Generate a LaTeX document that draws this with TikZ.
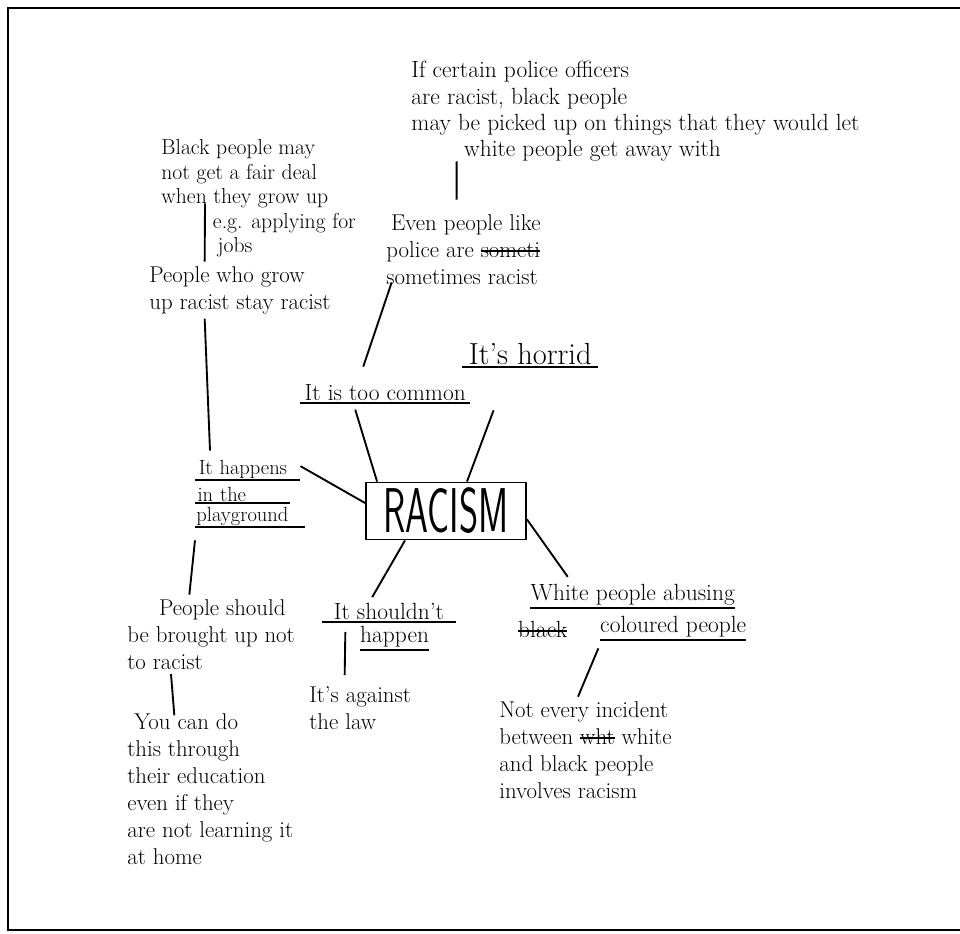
\documentclass[tikz,border=0pt]{standalone}
\usepackage{amsmath}
\usepackage{xcolor}
\usepackage{tikz}
\usetikzlibrary{calc}
\newsavebox\strkbox
\newcommand{\strk}[1]{\sbox\strkbox{#1}\rlap{\rule[0.55ex]{\wd\strkbox}{1.2pt}}\usebox\strkbox}
\tikzstyle{central} = [rectangle, draw=black, line width=1.6pt, minimum width=4.8cm, minimum height=1.71cm, inner sep=0pt, text centered, font=\sffamily\fontsize{54}{54}\selectfont]
\tikzstyle{note} = [anchor=north west, align=left, inner sep=1pt, font=\fontsize{19.5}{23}\selectfont]
\tikzstyle{heading} = [anchor=south west, inner xsep=0pt, inner ysep=2pt, text centered, font=\fontsize{20}{23}\selectfont]
\tikzstyle{uline} = [append after command={(\tikzlastnode.south west) edge[line width=1.4pt] (\tikzlastnode.south east)}]
\tikzstyle{playline} = [heading, uline, align=left, inner ysep=1pt, font=\fontsize{17.5}{19}\selectfont]
\tikzstyle{link} = [line width=1.6pt]

\begin{document}
\begin{tikzpicture}[x=0.03cm, y=-0.03cm]
\useasboundingbox (0,0) rectangle (960,934);
\draw[line width=2pt] (960,8) -- (8,8) -- (8,930) -- (960,930);

% centre
\node (racism) [central] at (446,511) {\scalebox{0.58}[1]{RACISM}};

% first ring
\node (common) [heading, uline, minimum width=5.1cm] at (300,403) {It is too common};
\node (horrid) [heading, uline, minimum width=4.08cm, font=\fontsize{26}{30}\selectfont] at (462,367) {It's horrid};
\node (play1) [playline, minimum width=3.15cm, text width=3.15cm] at (195,480) {\hspace{3pt}It happens};
\node (play2) [playline, minimum width=2.85cm, text width=2.85cm] at (195,503) {\hspace{2pt}in the};
\node (play3) [playline, minimum width=3.3cm, text width=3.3cm] at (195,527) {\hspace{1pt}playground};
\node (should1) [heading, uline, minimum width=4.0cm] at (322,622) {It shouldn't};
\node (should2) [heading, uline, minimum width=1.74cm] at (360,650) {happen};
\node (white1) [heading, uline, minimum width=6.15cm] at (530,608) {White people abusing};
\node (strike) [heading] at (518,640) {\strk{black}};
\node (white2) [heading, uline, minimum width=4.35cm] at (600,640) {coloured people};

% notes
\node (even) [note] at (385,213) {\hspace{4pt}Even people like\\police are \strk{someti}\\sometimes racist};
\node (ifcert) [note, font=\fontsize{20}{22.5}\selectfont] at (410,60) {If certain police officers\\are racist, black people\\may be picked up on things that they would let\\\hspace{45pt}white people get away with};
\node (blackppl) [note, font=\fontsize{18.5}{21}\selectfont] at (160,138) {Black people may\\not get a fair deal\\when they grow up\\\hspace{44pt}e.g. applying for\\\hspace{48pt}jobs};
\node (grow) [note] at (148,265) {People who grow\\up racist stay racist};
\node (law) [note] at (308,685) {It's against\\the law};
\node (notevery) [note] at (498,700) {Not every incident\\between \strk{wht} white\\and black people\\involves racism};
\node (should) [note] at (126,598) {\hspace{27pt}People should\\be brought up not\\to racist};
\node (youcan) [note] at (126,712) {\hspace{6pt}You can do\\this through\\their education\\even if they\\are not learning it\\at home};

% links
\draw [link] ([xshift=0.36cm]racism.north west) -- ([xshift=-0.9cm,yshift=-0.2cm]common.south);
\draw [link] ([xshift=0.63cm]racism.north) -- ([xshift=-1.1cm,yshift=-1.3cm]horrid.south);
\draw [link] ([yshift=0.24cm]racism.west) -- ([yshift=0.1cm]play1.east);
\draw [link] ([xshift=-1.23cm]racism.south) -- ([xshift=-0.5cm,yshift=0.1cm]should1.north);
\draw [link] ([yshift=-0.25cm]racism.east) -- ([xshift=-1.95cm,yshift=0.15cm]white1.north);
\draw [link] ([xshift=-0.66cm,yshift=0.45cm]common.north) -- ([xshift=0.2cm,yshift=0.1cm]even.south west);
\draw [link] ([xshift=2.15cm,yshift=0.4cm]even.north west) -- ([xshift=1.4cm,yshift=0.05cm]ifcert.south west);
\draw [link] ([xshift=1.35cm,yshift=-0.15cm]blackppl.west) -- ([xshift=1.7cm,yshift=0.1cm]grow.north west);
\draw [link] ([xshift=1.7cm,yshift=-0.1cm]grow.south west) -- ([xshift=0.45cm,yshift=0.25cm]play1.north west);
\draw [link] ([xshift=0cm,yshift=-0.4cm]play3.south west) -- ([xshift=1.9cm,yshift=0.1cm]should.north west);
\draw [link] ([xshift=1.35cm,yshift=-0.1cm]should.south west) -- ([xshift=1.45cm,yshift=-0.1cm]youcan.north west);
\draw [link] ([xshift=0.7cm,yshift=-0.3cm]should1.south west) -- ([xshift=1.1cm,yshift=0.3cm]law.north west);
\draw [link] ([xshift=-0.05cm,yshift=-0.25cm]white2.south west) -- ([xshift=2.4cm,yshift=0.1cm]notevery.north west);

\end{tikzpicture}
\end{document}
